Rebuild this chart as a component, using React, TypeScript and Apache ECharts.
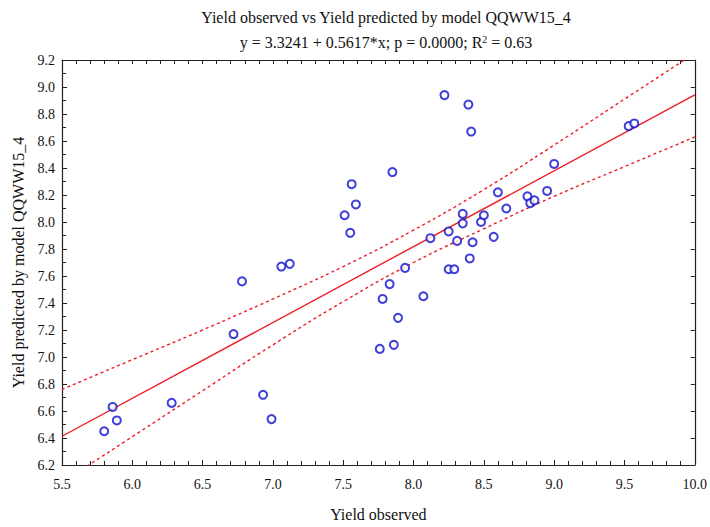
import React, { useEffect, useRef } from "react";
import * as echarts from "echarts";

const observed = [
  5.80, 5.86, 5.89, 6.28, 6.72, 6.78, 6.93, 6.99, 7.06, 7.12,
  7.51, 7.55, 7.56, 7.59, 7.76, 7.78, 7.83, 7.85, 7.86, 7.89,
  7.94, 8.07, 8.12, 8.22, 8.25, 8.25, 8.29, 8.31, 8.35, 8.35,
  8.39, 8.40, 8.41, 8.42, 8.48, 8.50, 8.57, 8.60, 8.66, 8.81,
  8.83, 8.86, 8.95, 9.00, 9.53, 9.57,
];
const predicted = [
  6.45, 6.63, 6.53, 6.66, 7.17, 7.56, 6.72, 6.54, 7.67, 7.69,
  8.05, 7.92, 8.28, 8.13, 7.06, 7.43, 7.54, 8.37, 7.09, 7.29,
  7.66, 7.45, 7.88, 8.94, 7.93, 7.65, 7.65, 7.86, 7.99, 8.06,
  8.87, 7.73, 8.67, 7.85, 8.00, 8.05, 7.89, 8.22, 8.10, 8.19,
  8.14, 8.16, 8.23, 8.43, 8.71, 8.73,
];

const fitX = [5.5, 10.0];
const fitY = [6.413, 8.941];

const bandX = [5.5, 6.0, 6.5, 7.0, 7.5, 8.0, 8.5, 9.0, 9.5, 10.0];
const bandUpper = [6.76, 6.98, 7.20, 7.43, 7.67, 7.94, 8.24, 8.57, 8.91, 9.25];
const bandLower = [6.07, 6.41, 6.75, 7.09, 7.41, 7.70, 7.95, 8.19, 8.41, 8.63];

const titleText = "Yield observed vs Yield predicted by model QQWW15_4";
const subtitleText = "y = 3.3241 + 0.5617*x; p = 0.0000; R{sup|2} = 0.63";
const xName = "Yield observed";
const yName = "Yield predicted by model QQWW15_4";

const FONT = "'Liberation Serif', serif";
const RED = "#ee1c25";
const BLUE = "#1010cc";
const AXIS = "#222";

export default function App() {
  const ref = useRef<HTMLDivElement>(null);
  useEffect(() => {
    const chart = echarts.init(ref.current!, null, { renderer: "svg" });
    const points = observed.map((x, i) => [x, predicted[i]]);
    const fit = fitX.map((x, i) => [x, fitY[i]]);
    const upper = bandX.map((x, i) => [x, bandUpper[i]]);
    const lower = bandX.map((x, i) => [x, bandLower[i]]);
    chart.setOption({
      animation: false,
      backgroundColor: "#fff",
      textStyle: { fontFamily: FONT },
      title: [
        {
          text: titleText,
          left: 381,
          top: 4,
          textAlign: "center",
          textStyle: { fontFamily: FONT, fontSize: 16, fontWeight: "normal", color: "#111" },
        },
        {
          text: subtitleText,
          left: 381,
          top: 29,
          textAlign: "center",
          textStyle: {
            fontFamily: FONT,
            fontSize: 16,
            fontWeight: "normal",
            color: "#111",
            rich: {
              sup: { fontFamily: FONT, fontSize: 10, color: "#111", verticalAlign: "top", lineHeight: 14 },
            },
          },
        },
      ],
      grid: { left: 62, right: 13, top: 60, bottom: 53 },
      xAxis: [
        {
          type: "value",
          min: 5.5,
          max: 10,
          interval: 0.5,
          name: xName,
          nameLocation: "middle",
          nameGap: 41,
          nameTextStyle: { fontFamily: FONT, fontSize: 16, color: "#111" },
          axisLine: { show: true, onZero: false, lineStyle: { color: AXIS, width: 1.2 } },
          axisTick: { show: true, inside: true, length: 5, lineStyle: { color: AXIS } },
          minorTick: { show: true, splitNumber: 5, length: 4, lineStyle: { color: AXIS } },
          splitLine: { show: false },
          axisLabel: {
            fontFamily: FONT,
            fontSize: 14,
            color: "#111",
            margin: 12,
            formatter: (v: number) => v.toFixed(1),
          },
        },
        {
          type: "value",
          position: "top",
          min: 5.5,
          max: 10,
          interval: 0.5,
          axisLine: { show: true, onZero: false, lineStyle: { color: AXIS, width: 1.2 } },
          axisTick: { show: true, inside: true, length: 4, lineStyle: { color: AXIS } },
          minorTick: { show: true, splitNumber: 5, length: 4, lineStyle: { color: AXIS } },
          splitLine: { show: false },
          axisLabel: { show: false },
        },
      ],
      yAxis: [
        {
          type: "value",
          min: 6.2,
          max: 9.2,
          interval: 0.2,
          name: yName,
          nameLocation: "middle",
          nameGap: 35,
          nameTextStyle: { fontFamily: FONT, fontSize: 16, color: "#111" },
          axisLine: { show: true, onZero: false, lineStyle: { color: AXIS, width: 1.2 } },
          axisTick: { show: true, inside: true, length: 5, lineStyle: { color: AXIS } },
          minorTick: { show: true, splitNumber: 2, length: 4, lineStyle: { color: AXIS } },
          splitLine: { show: false },
          axisLabel: {
            fontFamily: FONT,
            fontSize: 14,
            color: "#111",
            margin: 7,
            formatter: (v: number) => v.toFixed(1),
          },
        },
        {
          type: "value",
          position: "right",
          min: 6.2,
          max: 9.2,
          interval: 0.2,
          axisLine: { show: true, onZero: false, lineStyle: { color: AXIS, width: 1.2 } },
          axisTick: { show: true, inside: true, length: 4, lineStyle: { color: AXIS } },
          splitLine: { show: false },
          axisLabel: { show: false },
        },
      ],
      series: [
        {
          type: "line",
          data: upper,
          smooth: true,
          symbol: "none",
          clip: true,
          lineStyle: { color: RED, width: 1.4, type: [3, 3] },
          z: 2,
        },
        {
          type: "line",
          data: lower,
          smooth: true,
          symbol: "none",
          clip: true,
          lineStyle: { color: RED, width: 1.4, type: [3, 3] },
          z: 2,
        },
        {
          type: "line",
          data: fit,
          symbol: "none",
          clip: true,
          lineStyle: { color: RED, width: 1.4 },
          z: 2,
        },
        {
          type: "scatter",
          data: points,
          symbol: "emptyCircle",
          symbolSize: 8,
          itemStyle: { color: BLUE, borderColor: BLUE, borderWidth: 1.4 },
          z: 3,
        },
      ],
    });
    return () => chart.dispose();
  }, []);
  return (
    <div
      ref={ref}
      style={{ position: "fixed", left: 0, top: 0, width: 710, height: 527 }}
    />
  );
}
